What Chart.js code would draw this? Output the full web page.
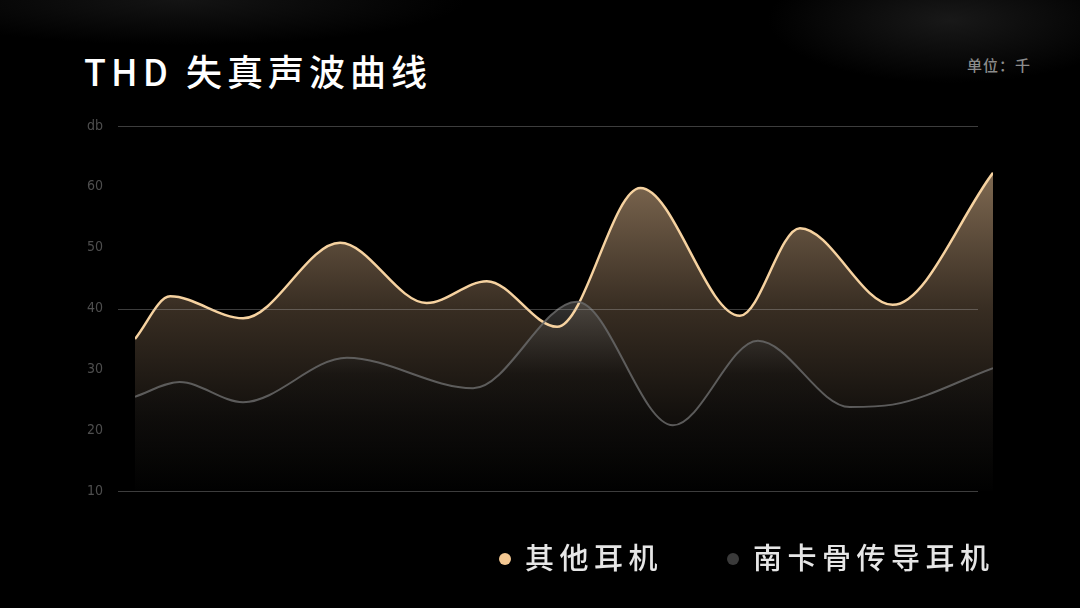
<!DOCTYPE html>
<html>
<head>
<meta charset="utf-8">
<script src="https://cdn.jsdelivr.net/npm/chart.js@4"></script>
<style>
    html, body {
        margin: 0;
        padding: 0;
        width: 1080px;
        height: 608px;
        overflow: hidden;
        background: #000;
    }
    .page {
        position: relative;
        width: 1080px;
        height: 608px;
        background:
            radial-gradient(ellipse 260px 90px at 950px 20px, rgba(70,70,70,0.35), rgba(0,0,0,0) 70%),
            radial-gradient(ellipse 380px 60px at 180px 0px, rgba(40,40,40,0.5), rgba(0,0,0,0) 75%),
            #000;
        font-family: "Noto Sans CJK SC", "Noto Sans", sans-serif;
    }
    .title {
        position: absolute;
        left: 84px;
        top: 45px;
        color: #fff;
        font-size: 36px;
        font-weight: 500;
        letter-spacing: 5px;
        line-height: 50px;
        white-space: nowrap;
    }
    .unit {
        position: absolute;
        left: 967px;
        top: 55px;
        color: #8c8c8c;
        font-size: 15px;
        font-weight: 500;
        letter-spacing: 1px;
        line-height: 20px;
    }
    .legend {
        position: absolute;
        top: 532px;
        font-size: 29px;
        font-weight: 500;
        line-height: 48px;
        color: #e6e6e6;
        letter-spacing: 5.5px;
        white-space: nowrap;
    }
    .legend .dot {
        display: inline-block;
        width: 12px;
        height: 12px;
        border-radius: 50%;
        margin-right: 14px;
        vertical-align: 4px;
    }
    #chart {
        position: absolute;
        left: 0;
        top: 0;
    }
</style>
</head>
<body>
<div class="page">
    <div class="title">THD 失真声波曲线</div>
    <div class="unit">单位：千</div>
    <canvas id="chart" width="1080" height="608"></canvas>
    <div class="legend" style="left:499px"><span class="dot" style="background:#f3c791"></span>其他耳机</div>
    <div class="legend" style="left:727px"><span class="dot" style="background:#3a3a3a"></span>南卡骨传导耳机</div>
</div>
<script>
// x = position along the curve (0-100), y = db
const otherX = [0, 4.1, 12.6, 23.9, 34.0, 41.0, 49.2, 58.9, 70.5, 77.5, 88.3, 100];
const otherY = [35, 42, 38.4, 50.8, 40.9, 44.5, 37, 59.8, 38.8, 53.2, 40.6, 62.3];

const nankaX = [0, 5.2, 12.6, 24.7, 39.4, 51.5, 62.7, 72.6, 83.3, 88.3, 100];
const nankaY = [25.5, 27.9, 24.6, 31.9, 26.9, 41.1, 20.8, 34.7, 23.8, 24.2, 30.2];

const yTicks = [10, 20, 30, 40, 50, 60, 70];
const yTickLabels = ["10", "20", "30", "40", "50", "60", "db"];
const gridValues = [10, 40, 70];

const toPoints = (xs, ys) => xs.map((x, i) => ({ x: x, y: ys[i] }));

function gradient(ctx, chartArea, stops) {
    const g = ctx.createLinearGradient(0, chartArea.top, 0, chartArea.bottom);
    stops.forEach(s => g.addColorStop(s[0], s[1]));
    return g;
}

// horizontal guide lines, a bit left of the plot like the original
const guideLines = {
    id: "guideLines",
    afterDatasetsDraw(chart) {
        const ctx = chart.ctx;
        const y = chart.scales.y;
        ctx.save();
        ctx.strokeStyle = "rgba(190,190,190,0.32)";
        ctx.lineWidth = 1;
        gridValues.forEach(v => {
            const py = Math.round(y.getPixelForValue(v)) + 0.5;
            ctx.beginPath();
            ctx.moveTo(118, py);
            ctx.lineTo(978, py);
            ctx.stroke();
        });
        ctx.restore();
    }
};

const ctx = document.getElementById("chart").getContext("2d");
new Chart(ctx, {
    type: "line",
    data: {
        datasets: [
            {
                label: "其他耳机",
                data: toPoints(otherX, otherY),
                borderColor: "#f6d2a0",
                borderWidth: 2.5,
                pointRadius: 0,
                cubicInterpolationMode: "monotone",
                fill: "start",
                order: 1,
                backgroundColor: c => {
                    const a = c.chart.chartArea;
                    if (!a) return "rgba(0,0,0,0)";
                    return gradient(c.chart.ctx, a, [
                        [0.1, "rgba(140,116,90,0.95)"],
                        [0.5, "rgba(62,50,38,0.9)"],
                        [0.8, "rgba(20,17,14,0.9)"],
                        [1, "rgba(4,4,4,1)"]
                    ]);
                }
            },
            {
                label: "南卡骨传导耳机",
                data: toPoints(nankaX, nankaY),
                borderColor: "rgba(105,105,105,0.85)",
                borderWidth: 2,
                pointRadius: 0,
                cubicInterpolationMode: "monotone",
                fill: "start",
                order: 0,
                backgroundColor: c => {
                    const a = c.chart.chartArea;
                    if (!a) return "rgba(0,0,0,0)";
                    return gradient(c.chart.ctx, a, [
                        [0.45, "rgba(100,98,95,0.6)"],
                        [0.68, "rgba(20,18,16,0.55)"],
                        [1, "rgba(0,0,0,0.8)"]
                    ]);
                }
            }
        ]
    },
    options: {
        responsive: false,
        animation: false,
        layout: {
            padding: { left: 60, right: 87, top: 126, bottom: 117 }
        },
        plugins: {
            legend: { display: false },
            tooltip: { enabled: false },
            filler: { drawTime: "beforeDatasetsDraw" }
        },
        scales: {
            x: {
                type: "linear",
                min: 0,
                max: 100,
                display: false
            },
            y: {
                min: 10,
                max: 70,
                border: { display: false },
                grid: { display: false, drawTicks: false },
                afterFit: s => { s.width = 75; },
                afterBuildTicks: s => { s.ticks = yTicks.map(v => ({ value: v })); },
                ticks: {
                    padding: 32,
                    color: "#4e4e4e",
                    font: { family: "'DejaVu Sans Condensed', 'Liberation Sans Narrow', sans-serif", size: 14 },
                    callback: v => yTickLabels[yTicks.indexOf(v)]
                }
            }
        }
    },
    plugins: [guideLines]
});
</script>
</body>
</html>
